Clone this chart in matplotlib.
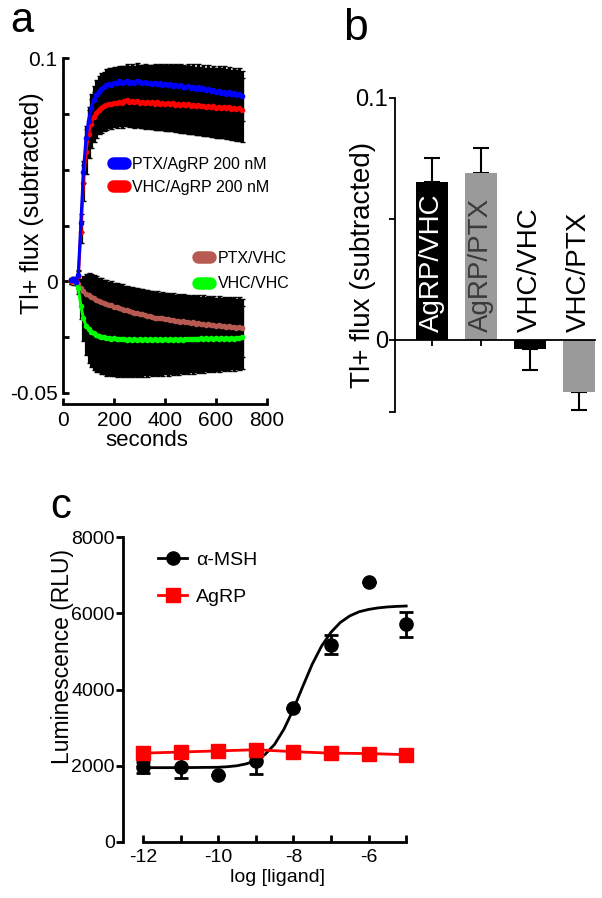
import matplotlib
matplotlib.use('Agg')
import matplotlib.pyplot as plt
from matplotlib.lines import Line2D

plt.rcParams['font.family'] = ['Liberation Sans', 'DejaVu Sans']
plt.rcParams['axes.unicode_minus'] = False

# ---------------- panel a: Tl+ flux time course ----------------
seconds = list(range(30, 701, 10))

ptx_agrp = [0.0005, 0.0010, -0.0005, 0.0030, 0.0260, 0.0490, 0.0640, 0.0720, 0.0775, 0.0810,
            0.0835, 0.0850, 0.0862, 0.0870, 0.0878, 0.0883, 0.0880, 0.0890, 0.0886, 0.0895,
            0.0889, 0.0893, 0.0898, 0.0890, 0.0894, 0.0888, 0.0896, 0.0891, 0.0887, 0.0893,
            0.0886, 0.0890, 0.0884, 0.0889, 0.0882, 0.0887, 0.0880, 0.0885, 0.0878, 0.0883,
            0.0876, 0.0881, 0.0874, 0.0879, 0.0872, 0.0868, 0.0875, 0.0866, 0.0871, 0.0862,
            0.0868, 0.0859, 0.0864, 0.0855, 0.0861, 0.0852, 0.0857, 0.0849, 0.0854, 0.0845,
            0.0850, 0.0841, 0.0846, 0.0837, 0.0842, 0.0833, 0.0838, 0.0830]
ptx_agrp_sd = [0.0010, 0.0010, 0.0012, 0.0020, 0.0040, 0.0050, 0.0055, 0.0060, 0.0062, 0.0065,
               0.0066, 0.0068, 0.0070, 0.0068, 0.0072, 0.0070, 0.0073, 0.0071, 0.0074, 0.0070,
               0.0075, 0.0072, 0.0074, 0.0076, 0.0078, 0.0075, 0.0080, 0.0077, 0.0082, 0.0079,
               0.0083, 0.0080, 0.0085, 0.0082, 0.0087, 0.0084, 0.0089, 0.0086, 0.0091, 0.0088,
               0.0093, 0.0090, 0.0095, 0.0092, 0.0097, 0.0094, 0.0099, 0.0096, 0.0101, 0.0098,
               0.0103, 0.0100, 0.0105, 0.0102, 0.0107, 0.0104, 0.0109, 0.0106, 0.0110, 0.0108,
               0.0112, 0.0109, 0.0114, 0.0111, 0.0115, 0.0112, 0.0116, 0.0113]

vhc_agrp = [0.0000, 0.0008, 0.0002, 0.0025, 0.0220, 0.0440, 0.0580, 0.0660, 0.0705, 0.0735,
            0.0755, 0.0768, 0.0778, 0.0785, 0.0790, 0.0796, 0.0793, 0.0800, 0.0797, 0.0805,
            0.0799, 0.0806, 0.0810, 0.0802, 0.0808, 0.0801, 0.0807, 0.0800, 0.0805, 0.0798,
            0.0804, 0.0797, 0.0803, 0.0796, 0.0801, 0.0795, 0.0800, 0.0793, 0.0799, 0.0792,
            0.0797, 0.0790, 0.0796, 0.0789, 0.0794, 0.0788, 0.0792, 0.0786, 0.0791, 0.0784,
            0.0789, 0.0783, 0.0787, 0.0781, 0.0786, 0.0779, 0.0784, 0.0778, 0.0782, 0.0776,
            0.0781, 0.0774, 0.0779, 0.0772, 0.0777, 0.0771, 0.0775, 0.0769]
vhc_agrp_sd = [0.0010, 0.0012, 0.0012, 0.0020, 0.0050, 0.0080, 0.0100, 0.0108, 0.0110, 0.0112,
               0.0112, 0.0110, 0.0113, 0.0111, 0.0114, 0.0110, 0.0113, 0.0111, 0.0112, 0.0110,
               0.0114, 0.0111, 0.0115, 0.0112, 0.0116, 0.0113, 0.0117, 0.0114, 0.0118, 0.0115,
               0.0119, 0.0116, 0.0120, 0.0117, 0.0122, 0.0118, 0.0123, 0.0120, 0.0125, 0.0121,
               0.0126, 0.0123, 0.0128, 0.0124, 0.0129, 0.0126, 0.0131, 0.0127, 0.0132, 0.0129,
               0.0134, 0.0130, 0.0135, 0.0132, 0.0137, 0.0133, 0.0138, 0.0135, 0.0140, 0.0136,
               0.0141, 0.0138, 0.0143, 0.0139, 0.0144, 0.0141, 0.0146, 0.0143]

ptx_vhc = [0.0005, -0.0005, 0.0000, -0.0010, -0.0030, -0.0045, -0.0055, -0.0062, -0.0070, -0.0075,
           -0.0082, -0.0086, -0.0092, -0.0097, -0.0100, -0.0106, -0.0108, -0.0113, -0.0116, -0.0121,
           -0.0123, -0.0128, -0.0130, -0.0134, -0.0136, -0.0141, -0.0142, -0.0147, -0.0148, -0.0152,
           -0.0153, -0.0157, -0.0158, -0.0162, -0.0162, -0.0166, -0.0166, -0.0170, -0.0169, -0.0174,
           -0.0173, -0.0177, -0.0176, -0.0180, -0.0179, -0.0183, -0.0182, -0.0186, -0.0184, -0.0189,
           -0.0187, -0.0191, -0.0189, -0.0194, -0.0192, -0.0196, -0.0194, -0.0199, -0.0196, -0.0201,
           -0.0199, -0.0203, -0.0201, -0.0205, -0.0203, -0.0207, -0.0205, -0.0209]
ptx_vhc_sd = [0.0010, 0.0012, 0.0012, 0.0020, 0.0040, 0.0070, 0.0090, 0.0100, 0.0102, 0.0104,
              0.0105, 0.0103, 0.0106, 0.0104, 0.0107, 0.0105, 0.0108, 0.0106, 0.0109, 0.0107,
              0.0110, 0.0108, 0.0111, 0.0109, 0.0112, 0.0110, 0.0113, 0.0111, 0.0114, 0.0112,
              0.0115, 0.0113, 0.0116, 0.0114, 0.0117, 0.0115, 0.0118, 0.0116, 0.0119, 0.0117,
              0.0120, 0.0118, 0.0121, 0.0119, 0.0122, 0.0120, 0.0123, 0.0121, 0.0124, 0.0122,
              0.0125, 0.0123, 0.0126, 0.0124, 0.0127, 0.0125, 0.0128, 0.0126, 0.0129, 0.0127,
              0.0130, 0.0128, 0.0131, 0.0129, 0.0132, 0.0130, 0.0133, 0.0131]

vhc_vhc = [0.0000, 0.0005, -0.0005, -0.0030, -0.0110, -0.0165, -0.0198, -0.0215, -0.0226, -0.0233,
           -0.0240, -0.0244, -0.0249, -0.0250, -0.0254, -0.0253, -0.0257, -0.0255, -0.0259, -0.0256,
           -0.0260, -0.0257, -0.0261, -0.0258, -0.0262, -0.0258, -0.0262, -0.0259, -0.0263, -0.0259,
           -0.0263, -0.0259, -0.0263, -0.0260, -0.0263, -0.0259, -0.0262, -0.0259, -0.0262, -0.0258,
           -0.0262, -0.0258, -0.0261, -0.0257, -0.0261, -0.0257, -0.0260, -0.0256, -0.0260, -0.0256,
           -0.0259, -0.0255, -0.0259, -0.0255, -0.0258, -0.0254, -0.0258, -0.0254, -0.0257, -0.0253,
           -0.0257, -0.0253, -0.0256, -0.0252, -0.0256, -0.0252, -0.0255, -0.0251]
vhc_vhc_sd = [0.0010, 0.0012, 0.0012, 0.0025, 0.0060, 0.0100, 0.0130, 0.0150, 0.0158, 0.0162,
              0.0165, 0.0163, 0.0167, 0.0165, 0.0168, 0.0166, 0.0169, 0.0167, 0.0170, 0.0168,
              0.0169, 0.0166, 0.0168, 0.0165, 0.0167, 0.0164, 0.0166, 0.0163, 0.0165, 0.0162,
              0.0164, 0.0161, 0.0163, 0.0160, 0.0162, 0.0159, 0.0161, 0.0158, 0.0160, 0.0157,
              0.0158, 0.0155, 0.0157, 0.0154, 0.0156, 0.0153, 0.0155, 0.0152, 0.0154, 0.0151,
              0.0152, 0.0149, 0.0151, 0.0148, 0.0150, 0.0147, 0.0149, 0.0146, 0.0148, 0.0145,
              0.0146, 0.0143, 0.0145, 0.0142, 0.0144, 0.0141, 0.0143, 0.0140]

# ---------------- panel b: bar summary ----------------
bar_labels = ['AgRP/VHC', 'AgRP/PTX', 'VHC/VHC', 'VHC/PTX']
bar_means = [0.0653, 0.0690, -0.0040, -0.0219]
bar_errs = [0.0100, 0.0103, 0.0088, 0.0074]

# ---------------- panel c: dose response ----------------
log_ligand = [-12, -11, -10, -9, -8, -7, -6, -5]
msh_mean = [1960, 1980, 1760, 2120, 3510, 5170, 6830, 5710]
msh_err = [150, 290, 0, 340, 0, 250, 0, 330]
agrp_mean = [2330, 2360, 2390, 2420, 2370, 2330, 2320, 2290]
fit_x = [-12, -11, -10, -9.75, -9.5, -9.25, -9.0, -8.75, -8.5, -8.25, -8.0, -7.75,
         -7.5, -7.25, -7.0, -6.75, -6.5, -6.25, -6.0, -5.75, -5.5, -5.25, -5.0]
fit_y = [1950, 1950, 1960, 1975, 2000, 2050, 2140, 2300, 2560, 2960, 3480, 4080,
         4660, 5140, 5500, 5760, 5930, 6040, 6100, 6140, 6165, 6180, 6190]

W, H = 602, 898


def fx(px):
    return px / W


def fy(py):
    return 1 - py / H


fig = plt.figure(figsize=(6.02, 8.98), dpi=100)

# ---- a ----
ax_a = fig.add_axes([fx(63), fy(393), fx(267) - fx(63), fy(58) - fy(393)])
series = [(ptx_vhc, ptx_vhc_sd, '#b65a52'), (vhc_vhc, vhc_vhc_sd, '#00ff00'),
          (vhc_agrp, vhc_agrp_sd, '#ff0000'), (ptx_agrp, ptx_agrp_sd, '#0000ff')]
for m, s, c in series:
    ax_a.errorbar(seconds, m, yerr=s, fmt='none', ecolor='black', elinewidth=2.3,
                  capsize=1.8, capthick=1.0, zorder=1)
for m, s, c in series:
    ax_a.plot(seconds, m, color=c, lw=2.2, marker='.', ms=6, zorder=3)

ax_a.set_xlim(0, 800)
ax_a.set_ylim(-0.05, 0.1)
ax_a.set_xticks([0, 200, 400, 600, 800])
ax_a.set_yticks([-0.05, -0.025, 0, 0.025, 0.05, 0.075, 0.1])
ax_a.set_yticklabels(['-0.05', '', '0', '', '', '', '0.1'])
for sp in ['top', 'right']:
    ax_a.spines[sp].set_visible(False)
ax_a.spines['bottom'].set_position(('outward', 8.0))
for sp in ['left', 'bottom']:
    ax_a.spines[sp].set_linewidth(2)
ax_a.tick_params(direction='in', length=4, width=2, labelsize=15)
ax_a.tick_params(axis='x', pad=5)
ax_a.tick_params(axis='y', pad=4)


def blob(c):
    return Line2D([], [], color=c, lw=9, solid_capstyle='round')


leg1 = ax_a.legend([blob('#0000ff'), blob('#ff0000')],
                   ['PTX/AgRP 200 nM', 'VHC/AgRP 200 nM'],
                   loc='upper left', bbox_to_anchor=(fx(113), fy(157)),
                   bbox_transform=fig.transFigure, frameon=False, fontsize=11.5,
                   handlelength=0.72, handletextpad=0.5, borderpad=0,
                   borderaxespad=0, labelspacing=0.5)
ax_a.add_artist(leg1)
ax_a.legend([blob('#b65a52'), blob('#00ff00')], ['PTX/VHC', 'VHC/VHC'],
            loc='upper left', bbox_to_anchor=(fx(198), fy(251)),
            bbox_transform=fig.transFigure, frameon=False, fontsize=11.5,
            handlelength=0.72, handletextpad=0.5, borderpad=0,
            borderaxespad=0, labelspacing=0.65)

fig.text(fx(32), fy(203), 'Tl+ flux (subtracted)', rotation=90, ha='center',
         va='center', fontsize=18)
fig.text(fx(147), fy(441), 'seconds', ha='center', va='center', fontsize=16)
fig.text(fx(10), fy(32), 'a', fontsize=30, va='baseline')

# ---- b ----
ax_b = fig.add_axes([fx(395), fy(412), fx(595) - fx(395), fy(98) - fy(412)])
pos = list(range(len(bar_labels)))
bar_colors = ['black', '#9a9a9a', 'black', '#9a9a9a']
ax_b.bar(pos, bar_means, width=0.66, color=bar_colors, zorder=2)
for i in pos:
    if bar_means[i] >= 0:
        yerr = [[0], [bar_errs[i]]]
    else:
        yerr = [[bar_errs[i]], [0]]
    ax_b.errorbar([pos[i]], [bar_means[i]], yerr=yerr, fmt='none',
                  ecolor='black', elinewidth=1.5, capsize=6, capthick=1.5, zorder=1)
text_colors = ['white', '#3a3a3a', 'black', 'black']
for i in pos:
    ax_b.text(pos[i], 0.003, bar_labels[i], rotation=90, ha='center', va='bottom',
              fontsize=20, color=text_colors[i], zorder=3)
ax_b.set_xlim(-0.76, 3.33)
ax_b.set_ylim(-0.03, 0.1)
ax_b.set_yticks([-0.03, 0, 0.05, 0.1])
ax_b.set_yticklabels(['', '0', '', '0.1'])
ax_b.set_xticks(pos)
ax_b.set_xticklabels([])
for sp in ['top', 'right']:
    ax_b.spines[sp].set_visible(False)
ax_b.spines['bottom'].set_position(('data', 0))
for sp in ['left', 'bottom']:
    ax_b.spines[sp].set_linewidth(1.3)
ax_b.tick_params(direction='out', length=4, width=1.3, labelsize=17, pad=1)

fig.text(fx(363), fy(265), 'Tl+ flux (subtracted)', rotation=90, ha='center',
         va='center', fontsize=20)
fig.text(fx(343), fy(40), 'b', fontsize=32, va='baseline')

# ---- c ----
ax_c = fig.add_axes([fx(123), fy(842), fx(425) - fx(123), fy(537) - fy(842)])
ax_c.plot(fit_x, fit_y, color='black', lw=2, zorder=2)
ax_c.errorbar(log_ligand, msh_mean, yerr=msh_err, fmt='o', color='black', ms=9.5,
              capsize=5, elinewidth=2, capthick=2, zorder=3)
ax_c.plot(log_ligand, agrp_mean, color='#ff0000', marker='s', ms=9.5, lw=2, zorder=4)
ax_c.set_xlim(-12.53, -4.5)
ax_c.set_ylim(0, 8000)
ax_c.set_xticks(log_ligand)
ax_c.set_xticklabels(['-12', '', '-10', '', '-8', '', '-6', ''])
ax_c.set_yticks([0, 2000, 4000, 6000, 8000])
for sp in ['top', 'right']:
    ax_c.spines[sp].set_visible(False)
ax_c.spines['bottom'].set_bounds(-12, -5)
for sp in ['left', 'bottom']:
    ax_c.spines[sp].set_linewidth(2)
ax_c.tick_params(axis='y', direction='out', length=5, width=2, labelsize=14, pad=1)
ax_c.tick_params(axis='x', direction='in', length=5, width=2, labelsize=14, pad=5)

ax_c.legend([Line2D([], [], color='black', marker='o', ms=9.5, lw=2),
             Line2D([], [], color='#ff0000', marker='s', ms=9.5, lw=2)],
            ['\u03b1-MSH', 'AgRP'], loc='upper left',
            bbox_to_anchor=(fx(158), fy(551)), bbox_transform=fig.transFigure,
            frameon=False, fontsize=14, handlelength=1.5, handletextpad=0.45,
            borderpad=0, borderaxespad=0, labelspacing=1.0)

fig.text(fx(62), fy(657), 'Luminescence (RLU)', rotation=90, ha='center',
         va='center', fontsize=16.5)
fig.text(fx(277), fy(877), 'log [ligand]', ha='center', va='center', fontsize=14)
fig.text(fx(50), fy(518), 'c', fontsize=30, va='baseline')

fig.savefig('out.png', dpi=100)
